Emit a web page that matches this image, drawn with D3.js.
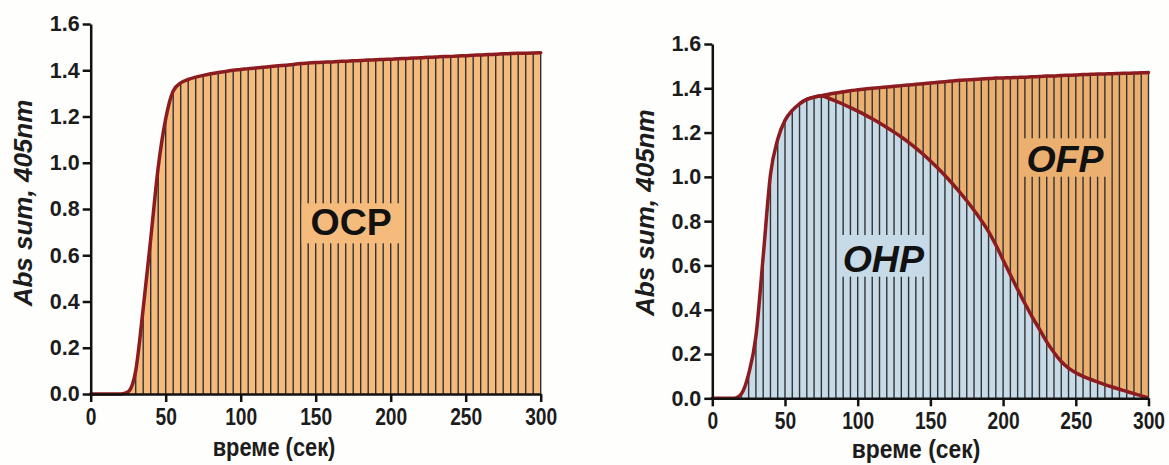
<!DOCTYPE html>
<html>
<head>
<meta charset="utf-8">
<script src="https://cdn.jsdelivr.net/npm/d3@7/dist/d3.min.js"></script>
<style>
  html, body { margin: 0; padding: 0; background: #fefefd; }
  svg { display: block; }
  text { font-family: "Liberation Sans", Arial, sans-serif; fill: #1c1c1c; }
</style>
</head>
<body>
<svg id="chart" width="1169" height="465"></svg>
<script>
// Sampling times (s), one sample every 5 s
const time = [0,5,10,15,20,25,30,35,40,45,50,55,60,65,70,75,80,85,90,95,
  100,105,110,115,120,125,130,135,140,145,150,155,160,165,170,175,180,185,190,195,
  200,205,210,215,220,225,230,235,240,245,250,255,260,265,270,275,280,285,290,295,300];

// Left panel: OCP absorbance sum at 405 nm
const ocp = [0,0,0,0,0,0.01,0.10,0.37,0.67,0.98,1.19,1.31,1.345,1.36,1.37,1.378,1.385,1.39,1.395,1.40,
  1.403,1.407,1.41,1.413,1.416,1.419,1.422,1.425,1.429,1.431,1.433,1.435,1.436,1.438,1.439,1.441,1.442,1.444,1.445,1.447,
  1.448,1.450,1.451,1.453,1.454,1.456,1.457,1.459,1.460,1.462,1.463,1.465,1.466,1.468,1.469,1.471,1.472,1.473,1.474,1.475,1.476];

// Right panel: total absorbance sum (OHP + OFP)
const total = [0,0,0,0,0.02,0.11,0.28,0.64,1.01,1.17,1.255,1.30,1.33,1.35,1.36,1.367,1.373,1.379,1.384,1.389,
  1.393,1.397,1.40,1.403,1.406,1.409,1.412,1.415,1.418,1.421,1.424,1.427,1.430,1.433,1.436,1.438,1.440,1.442,1.444,1.446,
  1.447,1.448,1.449,1.450,1.452,1.453,1.455,1.456,1.458,1.459,1.460,1.462,1.463,1.464,1.465,1.466,1.467,1.468,1.469,1.470,1.471];

// Right panel: OHP contribution
const ohp = [0,0,0,0,0.02,0.11,0.28,0.64,1.01,1.17,1.255,1.30,1.33,1.35,1.36,1.365,1.355,1.342,1.328,1.313,
  1.297,1.280,1.262,1.243,1.223,1.202,1.180,1.156,1.130,1.102,1.072,1.040,1.006,0.970,0.932,0.892,0.849,0.803,0.753,0.692,
  0.625,0.558,0.492,0.428,0.368,0.312,0.255,0.207,0.166,0.136,0.115,0.099,0.086,0.074,0.062,0.051,0.041,0.031,0.021,0.011,0.002];

const xTicks = [0,50,100,150,200,250,300];
const yTicks = [0,0.2,0.4,0.6,0.8,1.0,1.2,1.4,1.6];
const xTitle = "време (сек)";
const yTitle = "Abs sum, 405nm";

const svg = d3.select("#chart");

const RED = "#8c1c1f";
const HATCH = "#333";

function drawPanel(p) {
  const x = d3.scaleLinear().domain([0, 300]).range([p.x0, p.x1]);
  const y = d3.scaleLinear().domain([0, 1.6]).range([p.y0, p.y1]);
  const g = svg.append("g");

  const rows = time.map((t, i) => ({ t, top: p.top[i], low: p.low ? p.low[i] : 0 }));
  const curve = d3.curveMonotoneX;

  // filled regions
  if (p.low) {
    g.append("path").datum(rows)
      .attr("fill", p.topFill)
      .attr("d", d3.area().curve(curve).x(d => x(d.t)).y0(d => y(d.low)).y1(d => y(d.top)));
    g.append("path").datum(rows)
      .attr("fill", p.lowFill)
      .attr("d", d3.area().curve(curve).x(d => x(d.t)).y0(y(0)).y1(d => y(d.low)));
  } else {
    g.append("path").datum(rows)
      .attr("fill", p.topFill)
      .attr("d", d3.area().curve(curve).x(d => x(d.t)).y0(y(0)).y1(d => y(d.top)));
  }

  // vertical drop lines at each sample
  g.append("g").selectAll("line")
    .data(rows.filter(d => d.top > 0.005))
    .join("line")
    .attr("x1", d => x(d.t)).attr("x2", d => x(d.t))
    .attr("y1", y(0)).attr("y2", d => y(d.top))
    .attr("stroke", HATCH).attr("stroke-width", 1.4);

  // label boxes
  p.labels.forEach(l => {
    g.append("rect")
      .attr("x", l.bx).attr("y", l.by).attr("width", l.bw).attr("height", l.bh)
      .attr("fill", l.fill);
    g.append("text")
      .attr("x", l.bx + l.bw / 2).attr("y", l.by + l.base)
      .attr("text-anchor", "middle")
      .style("font-size", "37.5px").style("font-weight", "bold")
      .style("font-style", l.italic ? "italic" : "normal")
      .style("fill", "#111")
      .text(l.text);
  });

  // curves
  const line = d3.line().curve(curve).x(d => x(d.t));
  if (p.low) {
    g.append("path").datum(rows.filter(d => d.t >= 60))
      .attr("fill", "none").attr("stroke", RED).attr("stroke-width", 3.5)
      .attr("stroke-linejoin", "round")
      .attr("d", line.y(d => y(d.low)));
  }
  g.append("path").datum(rows)
    .attr("fill", "none").attr("stroke", RED).attr("stroke-width", 3.5)
    .attr("stroke-linejoin", "round").attr("stroke-linecap", "round")
    .attr("d", line.y(d => y(d.top)));

  // axes
  const xAxis = g.append("g").attr("transform", `translate(0,${p.y0})`)
    .call(d3.axisBottom(x).tickValues(xTicks).tickSize(8).tickSizeOuter(0).tickPadding(6));
  const yAxis = g.append("g").attr("transform", `translate(${p.x0},0)`)
    .call(d3.axisLeft(y).tickValues(yTicks).tickFormat(d3.format(".1f")).tickSize(8).tickSizeOuter(0).tickPadding(3));
  [xAxis, yAxis].forEach(a => {
    a.select(".domain").attr("stroke", "#111").attr("stroke-width", 2.5);
    a.selectAll(".tick line").attr("stroke", "#111").attr("stroke-width", 2.5);
  });
  xAxis.selectAll(".tick text")
    .style("font-size", "24px").style("font-weight", "bold").attr("fill", "#1c1c1c")
    .attr("transform", "scale(0.8,1)");
  yAxis.selectAll(".tick text")
    .style("font-size", "21.5px").style("font-weight", "bold").attr("fill", "#1c1c1c");

  // axis titles
  g.append("text")
    .attr("transform", `translate(${p.xtX},${p.xtY}) scale(${p.xtS},1)`)
    .attr("text-anchor", "middle")
    .style("font-size", "26px").style("font-weight", "bold")
    .text(xTitle);
  g.append("text")
    .attr("transform", `translate(${p.ytX},${p.ytY}) rotate(-90)`)
    .attr("text-anchor", "middle")
    .style("font-size", "26px").style("font-weight", "bold").style("font-style", "italic")
    .text(yTitle);
}

drawPanel({
  x0: 90.7, x1: 540.7, y0: 394, y1: 24,
  top: ocp, topFill: "#f5bb7d",
  xtX: 274, xtY: 456, xtS: 0.84, ytX: 32, ytY: 203,
  labels: [{ text: "OCP", italic: false, bx: 301.7, by: 203.3, bw: 99, bh: 40, base: 31.7, fill: "#f5bb7d" }]
});

drawPanel({
  x0: 712.3, x1: 1148.5, y0: 398.3, y1: 44,
  top: total, low: ohp, topFill: "#ebaf70", lowFill: "#c6dae8",
  xtX: 916, xtY: 458, xtS: 0.88, ytX: 653.5, ytY: 212.7,
  labels: [
    { text: "OHP", italic: true, bx: 838.3, by: 235, bw: 90, bh: 41.7, base: 36.7, fill: "#c6dae8" },
    { text: "OFP", italic: true, bx: 1020, by: 138.3, bw: 90, bh: 38.4, base: 33.4, fill: "#ebaf70" }
  ]
});
</script>
</body>
</html>
